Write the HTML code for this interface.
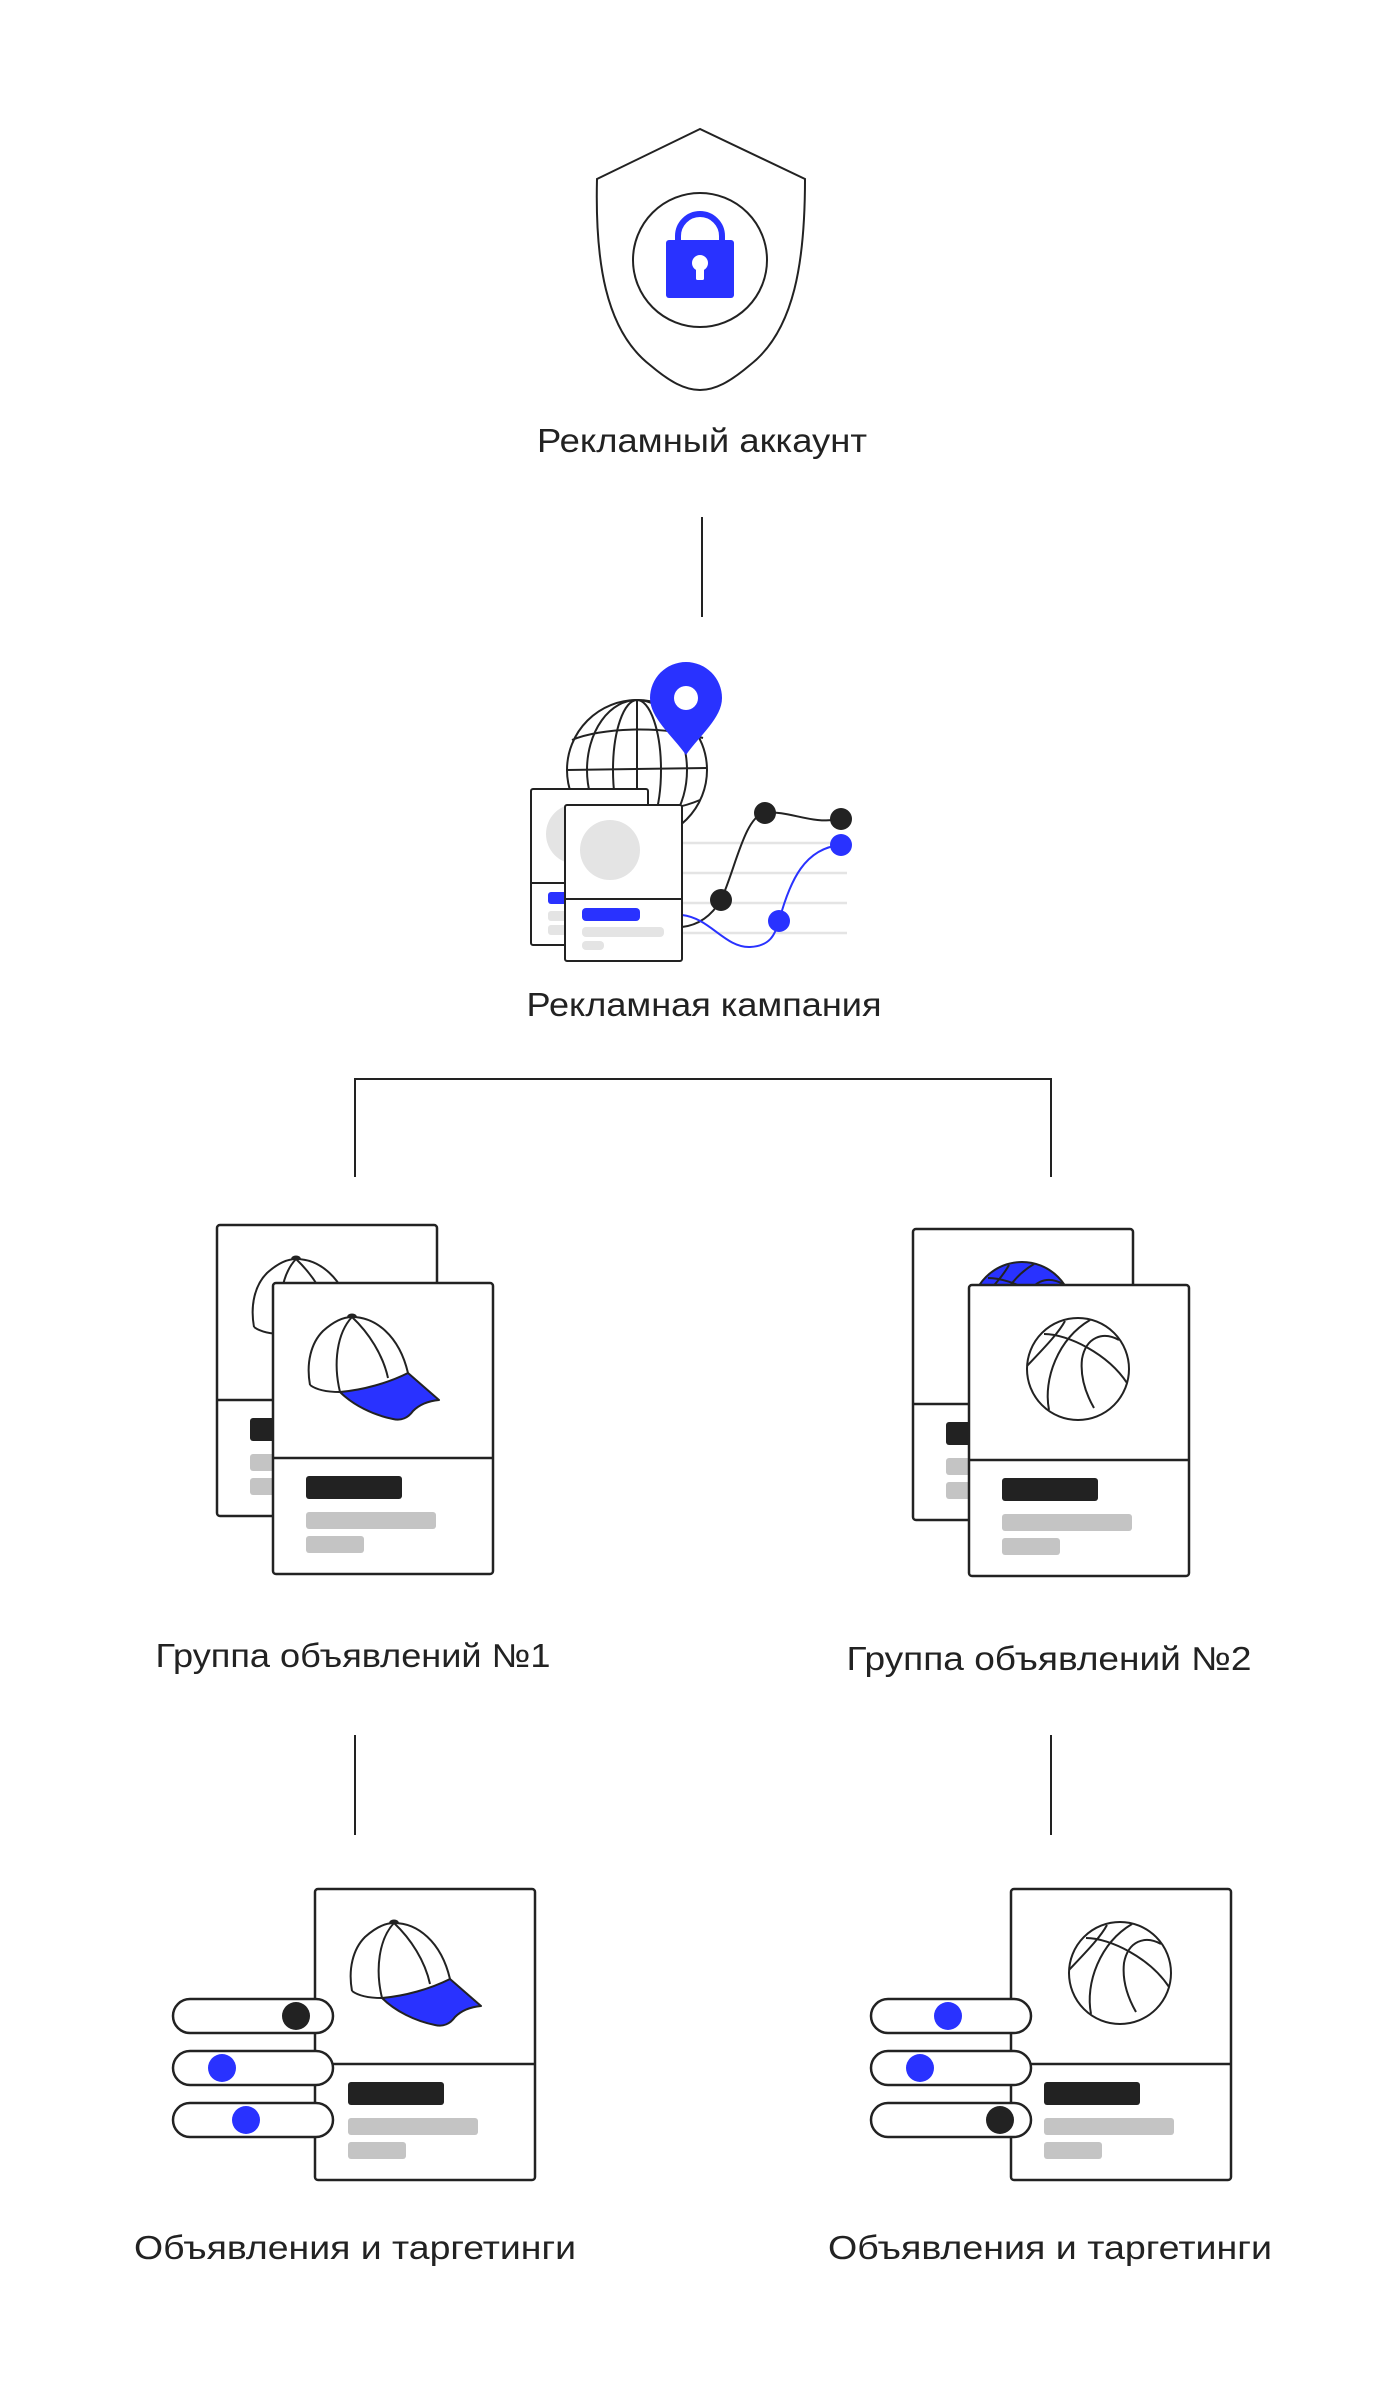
<!DOCTYPE html>
<html><head><meta charset="utf-8"><style>html,body{margin:0;padding:0;background:#fff}svg{display:block}</style></head>
<body>
<svg width="1400" height="2400" viewBox="0 0 1400 2400" xmlns="http://www.w3.org/2000/svg" font-family="'Liberation Sans', sans-serif">
<defs>
<g id="cap">
  <ellipse cx="79" cy="34" rx="5" ry="3.5" fill="#222"/>
  <path d="M37,102 C33,80 38,60 50,48 C60,39 70,34 79,34 C102,34 126,52 135,90" fill="#fff" stroke="#222" stroke-width="2"/>
  <path d="M37,102 C45,108 58,109 67,109" fill="none" stroke="#222" stroke-width="2"/>
  <path d="M79,34 C64,50 60,80 67,109" fill="none" stroke="#222" stroke-width="2"/>
  <path d="M79,34 C96,50 110,72 115,95" fill="none" stroke="#222" stroke-width="2"/>
  <path d="M67,109 C90,107 115,100 135,90 L166,117 C155,118 146,122 140,128 C135,135 128,138 120,136 C100,132 80,122 67,109 Z" fill="#2932ff" stroke="#222" stroke-width="2" stroke-linejoin="round"/>
</g>
<g id="card">
  <rect x="0" y="0" width="220" height="291" rx="3" fill="#fff" stroke="#222" stroke-width="2.5"/>
  <line x1="0" y1="175" x2="220" y2="175" stroke="#222" stroke-width="2.5"/>
  <rect x="33" y="193" width="96" height="23" rx="3" fill="#222"/>
  <rect x="33" y="229" width="130" height="17" rx="3" fill="#c4c4c4"/>
  <rect x="33" y="253" width="58" height="17" rx="3" fill="#c4c4c4"/>
</g>
<g id="ball">
  <circle cx="0" cy="0" r="51" fill="none" stroke="#222" stroke-width="2"/>
  <path d="M-51,-3 C-35,-20 -20,-35 -13,-48" fill="none" stroke="#222" stroke-width="2"/>
  <path d="M-34,-35 C-10,-35 30,-15 49,14" fill="none" stroke="#222" stroke-width="2"/>
  <path d="M12,-49 C-20,-30 -35,10 -29,41" fill="none" stroke="#222" stroke-width="2"/>
  <path d="M41,-29 C25,-38 8,-32 4,-10 C2,8 8,25 16,39" fill="none" stroke="#222" stroke-width="2"/>
</g>
<g id="ballfill">
  <circle cx="0" cy="0" r="51" fill="#2932ff" stroke="#222" stroke-width="2"/>
  <path d="M-51,-3 C-35,-20 -20,-35 -13,-48" fill="none" stroke="#222" stroke-width="2"/>
  <path d="M-34,-35 C-10,-35 30,-15 49,14" fill="none" stroke="#222" stroke-width="2"/>
  <path d="M12,-49 C-20,-30 -35,10 -29,41" fill="none" stroke="#222" stroke-width="2"/>
  <path d="M41,-29 C25,-38 8,-32 4,-10 C2,8 8,25 16,39" fill="none" stroke="#222" stroke-width="2"/>
</g>
</defs>

<!-- Shield -->
<path d="M700,129 L597,179 C595,260 605,330 650,365 C670,382 685,390 700,390 C715,390 730,382 750,365 C795,330 805,260 805,179 Z" fill="none" stroke="#222" stroke-width="2"/>
<circle cx="700" cy="260" r="67" fill="none" stroke="#222" stroke-width="2"/>
<path d="M678,242 L678,236 A22,22 0 0 1 722,236 L722,242" fill="none" stroke="#2932ff" stroke-width="6"/>
<rect x="666" y="240" width="68" height="58" rx="3" fill="#2932ff"/>
<circle cx="700" cy="263" r="8" fill="#fff"/>
<rect x="696" y="265" width="8" height="15" rx="1.5" fill="#fff"/>
<text x="702" y="452" font-size="33" fill="#222" text-anchor="middle" textLength="330" lengthAdjust="spacingAndGlyphs">Рекламный аккаунт</text>

<line x1="702" y1="517" x2="702" y2="617" stroke="#222" stroke-width="2"/>

<!-- Campaign -->
<g stroke="#e4e4e4" stroke-width="2.5">
  <line x1="682" y1="843" x2="847" y2="843"/>
  <line x1="682" y1="873" x2="847" y2="873"/>
  <line x1="682" y1="903" x2="847" y2="903"/>
  <line x1="682" y1="933" x2="847" y2="933"/>
</g>
<g fill="none" stroke="#222" stroke-width="2">
  <circle cx="637" cy="770" r="70"/>
  <line x1="637" y1="700" x2="637" y2="840"/>
  <ellipse cx="637" cy="770" rx="24" ry="70"/>
  <ellipse cx="637" cy="770" rx="50" ry="70"/>
  <path d="M567,770 L707,768"/>
  <path d="M572,740 C600,728 660,725 703,738"/>
  <path d="M575,805 C610,815 665,815 700,800"/>
</g>
<path d="M686,755 C672,735 650,718 650,698 A36,36 0 1 1 722,698 C722,718 700,735 686,755 Z" fill="#2932ff"/>
<circle cx="686" cy="698" r="12" fill="#fff"/>
<path d="M682,927 C700,925 712,915 721,900 C735,870 745,815 765,813 C790,810 810,825 841,819" fill="none" stroke="#222" stroke-width="2"/>
<path d="M682,915 C710,918 725,948 750,947 C770,946 775,935 779,921 C790,880 805,848 841,845" fill="none" stroke="#2932ff" stroke-width="2"/>
<circle cx="721" cy="900" r="11" fill="#222"/>
<circle cx="765" cy="813" r="11" fill="#222"/>
<circle cx="841" cy="819" r="11" fill="#222"/>
<circle cx="779" cy="921" r="11" fill="#2932ff"/>
<circle cx="841" cy="845" r="11" fill="#2932ff"/>
<rect x="531" y="789" width="117" height="156" rx="2" fill="#fff" stroke="#222" stroke-width="2"/>
<circle cx="576" cy="834" r="30" fill="#e4e4e4"/>
<line x1="531" y1="883" x2="648" y2="883" stroke="#222" stroke-width="2"/>
<rect x="548" y="892" width="40" height="12" rx="3" fill="#2932ff"/>
<rect x="548" y="911" width="40" height="10" rx="3" fill="#e4e4e4"/>
<rect x="548" y="925" width="40" height="10" rx="3" fill="#e4e4e4"/>
<rect x="565" y="805" width="117" height="156" rx="2" fill="#fff" stroke="#222" stroke-width="2"/>
<circle cx="610" cy="850" r="30" fill="#e4e4e4"/>
<line x1="565" y1="899" x2="682" y2="899" stroke="#222" stroke-width="2"/>
<rect x="582" y="908" width="58" height="13" rx="4" fill="#2932ff"/>
<rect x="582" y="927" width="82" height="10" rx="4" fill="#e4e4e4"/>
<rect x="582" y="941" width="22" height="9" rx="4" fill="#e4e4e4"/>
<text x="704" y="1016" font-size="33" fill="#222" text-anchor="middle" textLength="355" lengthAdjust="spacingAndGlyphs">Рекламная кампания</text>

<!-- Branch -->
<path d="M355,1177 L355,1079 L1051,1079 L1051,1177" fill="none" stroke="#222" stroke-width="2"/>

<!-- Group 1 -->
<g transform="translate(217,1225)"><use href="#card"/><use href="#cap" transform="translate(0,0)"/></g>
<g transform="translate(273,1283)"><use href="#card"/><use href="#cap"/></g>
<text x="353" y="1667" font-size="33" fill="#222" text-anchor="middle" textLength="395" lengthAdjust="spacingAndGlyphs">Группа объявлений №1</text>

<!-- Group 2 -->
<g transform="translate(913,1229)"><use href="#card"/><use href="#ballfill" transform="translate(109,84)"/></g>
<g transform="translate(969,1285)"><use href="#card"/><use href="#ball" transform="translate(109,84)"/></g>
<text x="1049" y="1670" font-size="33" fill="#222" text-anchor="middle" textLength="405" lengthAdjust="spacingAndGlyphs">Группа объявлений №2</text>

<line x1="355" y1="1735" x2="355" y2="1835" stroke="#222" stroke-width="2"/>
<line x1="1051" y1="1735" x2="1051" y2="1835" stroke="#222" stroke-width="2"/>

<!-- Ads 1 -->
<g transform="translate(315,1889)"><use href="#card"/><use href="#cap"/></g>
<g fill="#fff" stroke="#222" stroke-width="2.5">
  <rect x="173" y="1999" width="160" height="34" rx="17"/>
  <rect x="173" y="2051" width="160" height="34" rx="17"/>
  <rect x="173" y="2103" width="160" height="34" rx="17"/>
</g>
<circle cx="296" cy="2016" r="14" fill="#222"/>
<circle cx="222" cy="2068" r="14" fill="#2932ff"/>
<circle cx="246" cy="2120" r="14" fill="#2932ff"/>
<text x="355" y="2259" font-size="33" fill="#222" text-anchor="middle" textLength="442" lengthAdjust="spacingAndGlyphs">Объявления и таргетинги</text>

<!-- Ads 2 -->
<g transform="translate(1011,1889)"><use href="#card"/><use href="#ball" transform="translate(109,84)"/></g>
<g fill="#fff" stroke="#222" stroke-width="2.5">
  <rect x="871" y="1999" width="160" height="34" rx="17"/>
  <rect x="871" y="2051" width="160" height="34" rx="17"/>
  <rect x="871" y="2103" width="160" height="34" rx="17"/>
</g>
<circle cx="948" cy="2016" r="14" fill="#2932ff"/>
<circle cx="920" cy="2068" r="14" fill="#2932ff"/>
<circle cx="1000" cy="2120" r="14" fill="#222"/>
<text x="1050" y="2259" font-size="33" fill="#222" text-anchor="middle" textLength="444" lengthAdjust="spacingAndGlyphs">Объявления и таргетинги</text>
</svg>
</body></html>
